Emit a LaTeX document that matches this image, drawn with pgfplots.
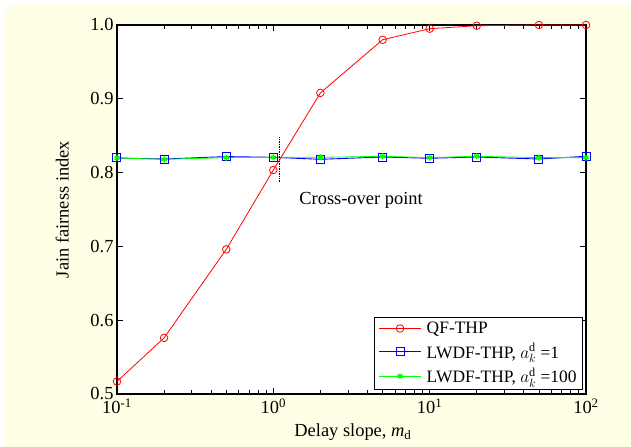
\documentclass[border=0pt]{standalone}
\usepackage{pgfplots}
\pgfplotsset{compat=1.18}
\usepackage{fontspec}
\setmainfont{Liberation Serif}
\definecolor{cream}{RGB}{255,255,230}
\definecolor{myblue}{RGB}{0,0,255}
\begin{document}
\begin{tikzpicture}[x=1bp,y=1bp]
\useasboundingbox (-117,-53) rectangle (514,394);
\fill[white] (-117,-53) rectangle (514,394);
\fill[cream] (-112,-53) rectangle (514,389);
\begin{axis}[
  at={(0,0)}, anchor=south west,
  scale only axis, width=469bp, height=369bp,
  xmode=log, xmin=0.1, xmax=100, ymin=0.5, ymax=1.0,
  axis background/.style={fill=white},
  axis line style={line width=1.2pt},
  font=\fontsize{18.5}{21}\selectfont,
  tick align=inside,
  major tick length=6bp, minor tick length=4bp,
  every tick/.style={black, line width=0.8pt},
  xtick={0.1,1,10,100},
  xticklabels={10\textsuperscript{-1},10\textsuperscript{0},10\textsuperscript{1},10\textsuperscript{2}},
  ytick={0.5,0.6,0.7,0.8,0.9,1.0},
  yticklabels={0.5,0.6,0.7,0.8,0.9,1.0},
  xticklabel style={yshift=-1bp},
  xlabel={Delay slope, \textit{m}\textsubscript{d}},
  ylabel={Jain fairness index},
  xlabel style={at={(axis description cs:0.503,-0.103)}, anchor=center},
  ylabel style={at={(axis description cs:-0.117,0.5)}, anchor=center},
  legend cell align=left,
  legend style={at={(rel axis cs:0.993,0.012)}, anchor=south east, fill=white,
    font=\fontsize{17.5}{20}\selectfont, row sep=4.5pt, column sep=3pt, inner xsep=4pt, inner ysep=3pt},
  legend image code/.code={\draw[mark repeat=2,mark phase=2] plot coordinates {(0cm,0cm) (0.75cm,0cm) (1.5cm,0cm)};},
  clip=false,
]
\addplot[red, line width=0.8pt, mark=o, mark size=3.8bp, mark options={line width=0.8pt}] coordinates {
 (0.1,0.517) (0.2,0.576) (0.5,0.696) (1,0.8035) (2,0.908) (5,0.980) (10,0.995) (20,0.999) (50,1.0) (100,1.0)};
\addlegendentry{QF-THP}
\addplot[draw=myblue, line width=0.9pt, mark=square, mark size=4bp, mark options={draw=myblue, line width=1pt}] coordinates {
 (0.1,0.8198) (0.2,0.8184) (0.5,0.8217) (1,0.8207) (2,0.818) (5,0.8211) (10,0.8194) (20,0.8211) (50,0.8184) (100,0.8221)};
\addlegendentry{LWDF-THP, $a_k^{\mathrm{d}}$ =1}
\addplot[green, line width=0.8pt, mark=asterisk, mark size=3bp, mark options={line width=1.4pt}] coordinates {
 (0.1,0.8198) (0.2,0.818) (0.5,0.8203) (1,0.8207) (2,0.8207) (5,0.8221) (10,0.8203) (20,0.8221) (50,0.8203) (100,0.8203)};
\addlegendentry{LWDF-THP, $a_k^{\mathrm{d}}$ =100}
\draw[densely dotted, black, line width=0.7pt] (axis cs:1.087,0.848) -- (axis cs:1.087,0.787);
\node[anchor=center] at (axis cs:3.64,0.763) {Cross-over point};
\end{axis}
\end{tikzpicture}
\end{document}
